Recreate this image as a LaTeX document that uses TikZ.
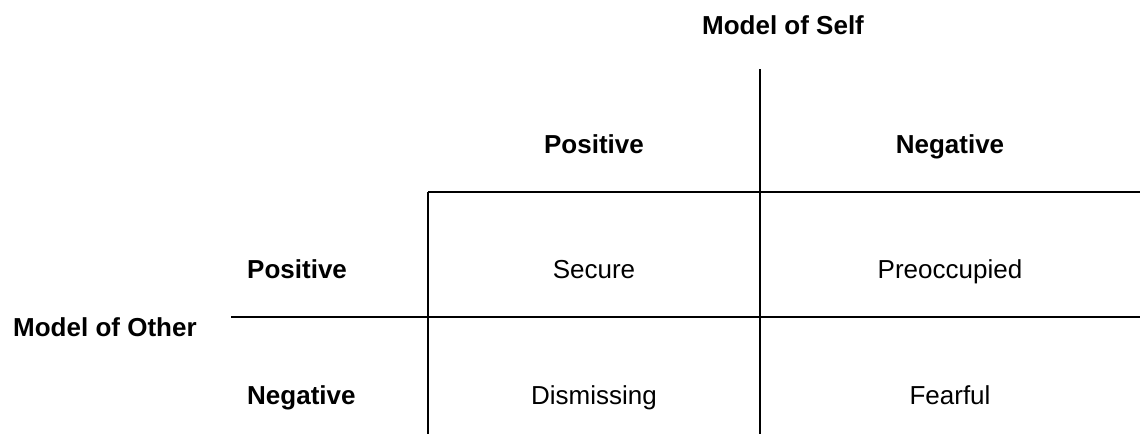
\documentclass[tikz,border=0pt]{standalone}
\usepackage{fontspec}
\setmainfont{Liberation Sans}
\usetikzlibrary{positioning}

\begin{document}
\begin{tikzpicture}[x=1pt,y=-1pt]
	\tikzset{every node/.style={inner sep=0pt,font=\fontsize{26}{31}\selectfont}}
	\tikzset{head/.style={anchor=base,font=\fontsize{26}{31}\selectfont\bfseries}}
	\tikzset{cell/.style={anchor=base}}
	\tikzset{rule/.style={line width=2pt}}
	\useasboundingbox (0,0) rectangle (1140,434);
	% grid corners
	\coordinate (selftop) at (760,69);
	\coordinate (colA) at (428,192);
	\coordinate (rowA) at (1140,192);
	\coordinate (otherleft) at (231,317);
	\coordinate (rowB) at (1140,317);
	\coordinate (colAbot) at (428,434);
	\coordinate (colBbot) at (760,434);
	\draw[rule] (selftop) -- (colBbot);
	\draw[rule] (colA) -- (rowA);
	\draw[rule] (colA) -- (colAbot);
	\draw[rule] (otherleft) -- (rowB);
	% labels
	\node[head] (self) at (783,34) {Model of Self};
	\node[head,anchor=base west] (other) at (13,336) {Model of Other};
	\node[head] (selfpos) at (594,153) {Positive};
	\node[head] (selfneg) at (950,153) {Negative};
	\node[head,anchor=base west] (otherpos) at (247,278) {Positive};
	\node[head,anchor=base west] (otherneg) at (247,404) {Negative};
	\node[cell] (secure) at (594,278) {Secure};
	\node[cell] (preocc) at (950,278) {Preoccupied};
	\node[cell] (dismiss) at (594,404) {Dismissing};
	\node[cell] (fearful) at (950,404) {Fearful};
\end{tikzpicture}
\end{document}
